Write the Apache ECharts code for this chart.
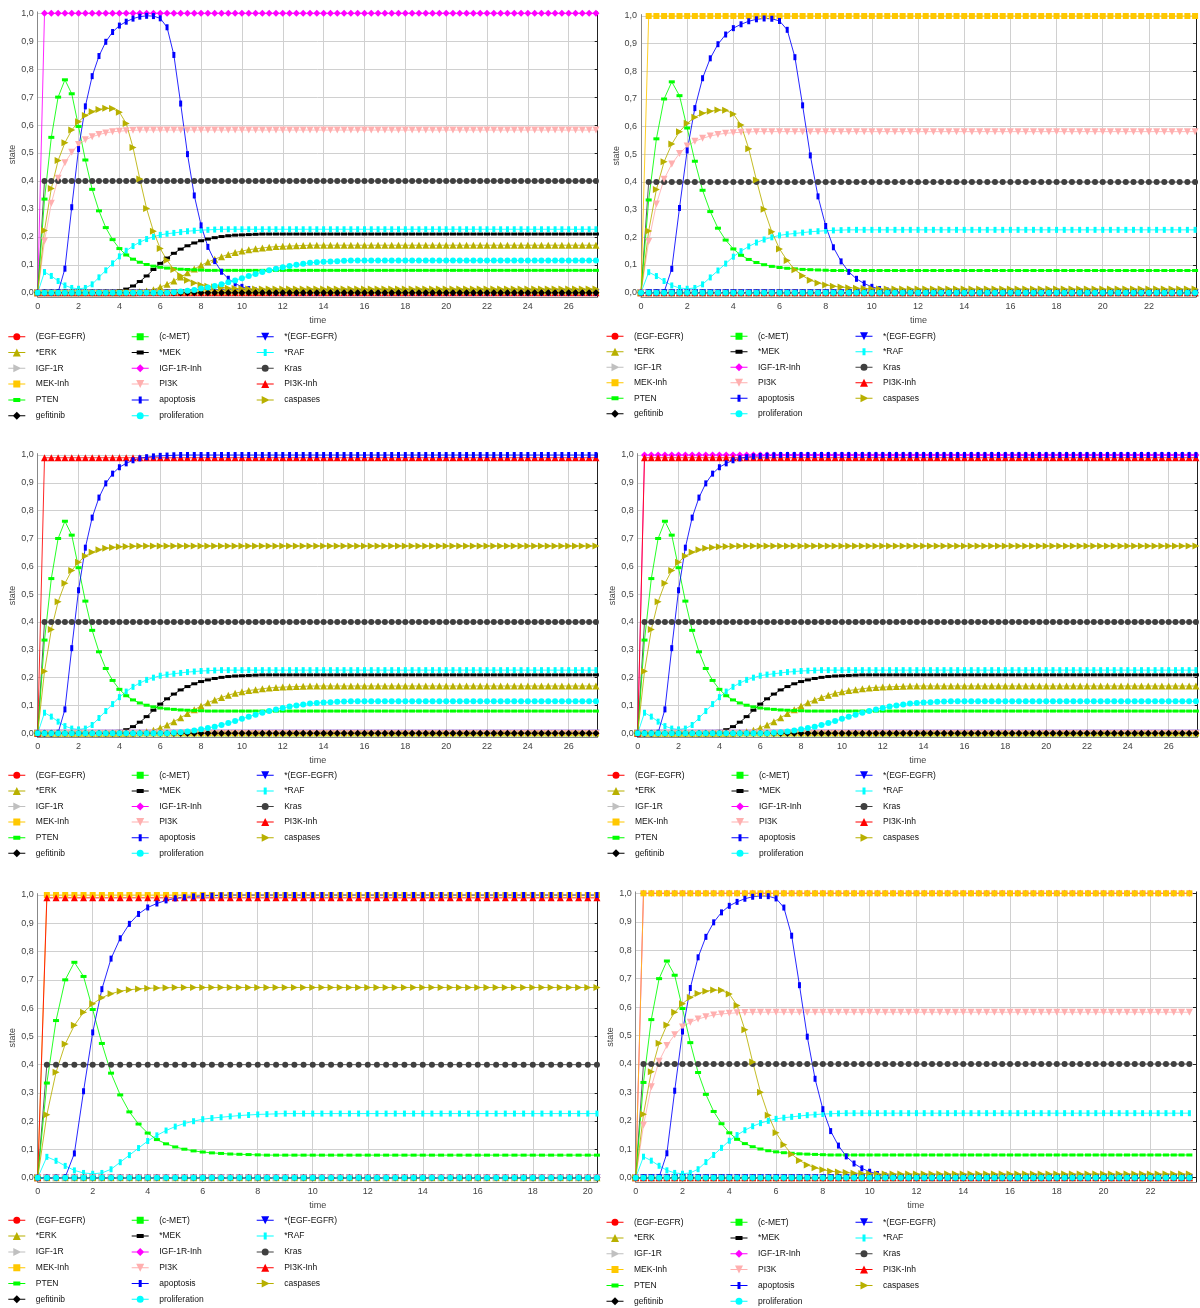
<!DOCTYPE html>
<html><head><meta charset="utf-8">
<script src="https://cdn.jsdelivr.net/npm/echarts@6/dist/echarts.min.js"></script>
<style>html,body{margin:0;padding:0;background:#fff}#c{width:1200px;height:1308px}</style>
</head><body><div id="c"></div>
<script>
const TIME_STEP = 1 / 3;
const ZERO = [0];
const STEP_ONE = [0, 1];
const STEP_PI3K_INH = [0, 0.99];
const KRAS = [0, 0.4];
const PI3K = [0, 0.185, 0.32, 0.41, 0.465, 0.503, 0.53, 0.547, 0.558, 0.566, 0.572, 0.576, 0.578, 0.58, 0.581, 0.582];
const PTEN = [0, 0.335, 0.556, 0.70, 0.762, 0.712, 0.595, 0.475, 0.37, 0.293, 0.233, 0.19, 0.158, 0.135, 0.12, 0.109, 0.101, 0.095, 0.091, 0.088, 0.086, 0.084, 0.083, 0.082, 0.081, 0.08];
const RAF = [0, 0.074, 0.06, 0.042, 0.026, 0.017, 0.014, 0.017, 0.03, 0.055, 0.08, 0.105, 0.13, 0.15, 0.167, 0.181, 0.192, 0.2, 0.207, 0.211, 0.214, 0.217, 0.22, 0.222, 0.224, 0.225, 0.226, 0.227];
const APOPTOSIS_BELL = [0, 0, 0, 0.002, 0.086, 0.306, 0.514, 0.667, 0.775, 0.847, 0.898, 0.933, 0.956, 0.97, 0.981, 0.988, 0.991, 0.99, 0.982, 0.95, 0.851, 0.677, 0.496, 0.348, 0.241, 0.164, 0.113, 0.075, 0.05, 0.033, 0.021, 0.013, 0.008, 0.004, 0.002, 0.001, 0];
const APOPTOSIS_RISE = [0, 0, 0, 0.002, 0.086, 0.306, 0.514, 0.667, 0.775, 0.847, 0.898, 0.933, 0.956, 0.97, 0.981, 0.988, 0.992, 0.995, 0.997, 0.998, 0.999, 1];
const CASPASES_BELL = [0, 0.223, 0.373, 0.473, 0.537, 0.582, 0.612, 0.634, 0.648, 0.656, 0.66, 0.659, 0.646, 0.606, 0.52, 0.407, 0.301, 0.22, 0.158, 0.116, 0.083, 0.061, 0.045, 0.035, 0.028, 0.023, 0.02, 0.018, 0.016, 0.015, 0.014, 0.013];
const CASPASES_RISE = [0, 0.223, 0.373, 0.473, 0.539, 0.585, 0.615, 0.637, 0.651, 0.66, 0.665, 0.668, 0.67, 0.671, 0.672, 0.673];
const MEK_RISE = [0, 0, 0, 0, 0, 0, 0, 0, 0, 0.001, 0.002, 0.004, 0.007, 0.013, 0.024, 0.04, 0.06, 0.083, 0.105, 0.124, 0.141, 0.156, 0.168, 0.178, 0.186, 0.192, 0.197, 0.201, 0.204, 0.206, 0.207, 0.208, 0.209, 0.21];
const ERK_RISE = [0, 0, 0, 0, 0, 0, 0, 0, 0, 0, 0, 0, 0, 0, 0, 0.003, 0.006, 0.011, 0.02, 0.03, 0.042, 0.056, 0.071, 0.085, 0.098, 0.11, 0.12, 0.129, 0.137, 0.144, 0.149, 0.154, 0.157, 0.16, 0.163, 0.165, 0.166, 0.167, 0.168, 0.169, 0.17];
const PROLIFERATION_RISE = [0, 0, 0, 0, 0, 0, 0, 0, 0, 0, 0, 0, 0, 0, 0, 0, 0, 0, 0, 0, 0.002, 0.004, 0.007, 0.01, 0.015, 0.019, 0.024, 0.03, 0.037, 0.044, 0.052, 0.06, 0.067, 0.074, 0.08, 0.086, 0.091, 0.096, 0.1, 0.104, 0.107, 0.109, 0.111, 0.112, 0.113, 0.114, 0.115];

const SERIES_NAMES = ['(EGF-EGFR)', '(c-MET)', '*(EGF-EGFR)', '*ERK', '*MEK', '*RAF', 'IGF-1R', 'IGF-1R-Inh', 'Kras', 'MEK-Inh', 'PI3K', 'PI3K-Inh', 'PTEN', 'apoptosis', 'caspases', 'gefitinib', 'proliferation'];
const Y_TICKS = [0, 0.1, 0.2, 0.3, 0.4, 0.5, 0.6, 0.7, 0.8, 0.9, 1.0];
const Y_TICK_LABELS = ['0,0', '0,1', '0,2', '0,3', '0,4', '0,5', '0,6', '0,7', '0,8', '0,9', '1,0'];
const X_TICKS_26 = [0, 2, 4, 6, 8, 10, 12, 14, 16, 18, 20, 22, 24, 26];
const X_TICKS_22 = [0, 2, 4, 6, 8, 10, 12, 14, 16, 18, 20, 22];
const X_TICKS_20 = [0, 2, 4, 6, 8, 10, 12, 14, 16, 18, 20];

// per-panel value assignment (series not listed stay at 0)
const PANEL_VALUES = [
  {'IGF-1R-Inh': STEP_ONE, 'Kras': KRAS, 'PI3K': PI3K, 'PTEN': PTEN, 'apoptosis': APOPTOSIS_BELL, 'caspases': CASPASES_BELL, '*RAF': RAF, '*MEK': MEK_RISE, '*ERK': ERK_RISE, 'proliferation': PROLIFERATION_RISE},
  {'MEK-Inh': STEP_ONE, 'Kras': KRAS, 'PI3K': PI3K, 'PTEN': PTEN, 'apoptosis': APOPTOSIS_BELL, 'caspases': CASPASES_BELL, '*RAF': RAF},
  {'PI3K-Inh': STEP_PI3K_INH, 'Kras': KRAS, 'PTEN': PTEN, 'apoptosis': APOPTOSIS_RISE, 'caspases': CASPASES_RISE, '*RAF': RAF, '*MEK': MEK_RISE, '*ERK': ERK_RISE, 'proliferation': PROLIFERATION_RISE},
  {'IGF-1R-Inh': STEP_ONE, 'PI3K-Inh': STEP_PI3K_INH, 'Kras': KRAS, 'PTEN': PTEN, 'apoptosis': APOPTOSIS_RISE, 'caspases': CASPASES_RISE, '*RAF': RAF, '*MEK': MEK_RISE, '*ERK': ERK_RISE, 'proliferation': PROLIFERATION_RISE},
  {'MEK-Inh': STEP_ONE, 'PI3K-Inh': STEP_PI3K_INH, 'Kras': KRAS, 'PTEN': PTEN, 'apoptosis': APOPTOSIS_RISE, 'caspases': CASPASES_RISE, '*RAF': RAF},
  {'IGF-1R-Inh': STEP_ONE, 'MEK-Inh': STEP_ONE, 'Kras': KRAS, 'PI3K': PI3K, 'PTEN': PTEN, 'apoptosis': APOPTOSIS_BELL, 'caspases': CASPASES_BELL, '*RAF': RAF}
];
const PANEL_POINTS = [83, 73, 83, 83, 62, 72];
const PANEL_XMAX = [27.42, 24.04, 27.42, 27.42, 20.36, 23.95];
const PANEL_XTICKS = [X_TICKS_26, X_TICKS_22, X_TICKS_26, X_TICKS_26, X_TICKS_20, X_TICKS_22];

// ---------- styling / layout ----------
const OLIVE = '#b8b000';
const DOWN = 'path://M0,0L10,0L5,10Z';
const RIGHT = 'path://M0,0L10,5L0,10Z';
const STYLE = {
  '(EGF-EGFR)': ['#ff0000', 'circle', 6, 'circle'],
  '(c-MET)': ['#00ff00', 'rect', 6, 'square'],
  '*(EGF-EGFR)': ['#0000ff', DOWN, 7, 'down'],
  '*ERK': [OLIVE, 'triangle', 7, 'up'],
  '*MEK': ['#000000', 'rect', [6, 3], 'hrect'],
  '*RAF': ['#00ffff', 'rect', [3, 6], 'vrect'],
  'IGF-1R': ['#c0c0c0', RIGHT, 7, 'right'],
  'IGF-1R-Inh': ['#ff00ff', 'diamond', 7, 'diamond'],
  'Kras': ['#404040', 'circle', 6, 'circle'],
  'MEK-Inh': ['#ffc800', 'rect', 6, 'square'],
  'PI3K': ['#ffafaf', DOWN, 7, 'down'],
  'PI3K-Inh': ['#ff0000', 'triangle', 7, 'up'],
  'PTEN': ['#00ff00', 'rect', [6, 3], 'hrect'],
  'apoptosis': ['#0000ff', 'rect', [3, 6], 'vrect'],
  'caspases': [OLIVE, RIGHT, 7, 'right'],
  'gefitinib': ['#000000', 'diamond', 7, 'diamond'],
  'proliferation': ['#00ffff', 'circle', 6, 'circle']
};
const ICON_BASE = 'M0,3.5H17V4.5H0Z M0,0L0.01,0L0,0.01Z M17,8L16.99,8L17,7.99Z ';
const ICON_SHAPES = {
  circle: 'M5,4A3.5,3.5,0,1,1,12,4A3.5,3.5,0,1,1,5,4Z',
  square: 'M5,0.5H12V7.5H5Z',
  up: 'M8.5,0L12.5,8H4.5Z',
  down: 'M4.5,0H12.5L8.5,8Z',
  right: 'M5,0L13,4L5,8Z',
  diamond: 'M8.5,0L12.5,4L8.5,8L4.5,4Z',
  hrect: 'M5,2H12V6H5Z',
  vrect: 'M7,0.5H10V7.5H7Z'
};
const LAYOUT = [
  {left: 37.7, top: 11.9, width: 560, height: 285, lgX: [8.3, 131.7, 256.7], lgY: 336.7, lgGap: 15.8},
  {left: 641, top: 14.6, width: 555, height: 282.2, lgX: [606.5, 730.5, 855.5], lgY: 336.2, lgGap: 15.5},
  {left: 37.7, top: 453.6, width: 560, height: 283.9, lgX: [8.3, 131.7, 256.7], lgY: 775.3, lgGap: 15.6},
  {left: 637.7, top: 453.6, width: 560, height: 283.9, lgX: [607.5, 731.5, 855.5], lgY: 775.3, lgGap: 15.6},
  {left: 37.7, top: 893.6, width: 560, height: 288.4, lgX: [8.3, 131.7, 256.7], lgY: 1220.3, lgGap: 15.8},
  {left: 635.7, top: 891.9, width: 560.3, height: 290.1, lgX: [606.5, 730.5, 855.5], lgY: 1222.2, lgGap: 15.8}
];
const FONT = 'Liberation Sans, Arial, sans-serif';

function hold(arr, n) {
  const out = arr.slice(0, n);
  while (out.length < n) out.push(arr[arr.length - 1]);
  return out;
}

const grid = [], xAxis = [], yAxis = [], series = [], legend = [];
LAYOUT.forEach((L, p) => {
  grid.push({left: L.left, top: L.top, width: L.width, height: L.height, containLabel: false});
  xAxis.push({
    type: 'value', gridIndex: p, min: 0, max: PANEL_XMAX[p],
    name: 'time', nameLocation: 'middle', nameGap: 19,
    nameTextStyle: {fontFamily: FONT, fontSize: 9, color: '#444'},
    axisLine: {show: true, onZero: false, lineStyle: {color: '#888', width: 1}},
    axisTick: {show: false, customValues: PANEL_XTICKS[p]},
    axisLabel: {customValues: PANEL_XTICKS[p], fontFamily: FONT, fontSize: 9, color: '#444', margin: 5},
    splitLine: {show: true, lineStyle: {color: '#d0d0d0', width: 1}}
  });
  yAxis.push({
    type: 'value', gridIndex: p, min: -0.015, max: 1.005,
    name: 'state', nameLocation: 'middle', nameGap: 19,
    nameTextStyle: {fontFamily: FONT, fontSize: 9, color: '#444'},
    axisLine: {show: true, onZero: false, lineStyle: {color: '#888', width: 1}},
    axisTick: {show: false, customValues: Y_TICKS},
    axisLabel: {customValues: Y_TICKS, fontFamily: FONT, fontSize: 9, color: '#444', margin: 4,
      formatter: v => Y_TICK_LABELS[Math.round(v * 10)]},
    splitLine: {show: true, lineStyle: {color: '#d0d0d0', width: 1}}
  });
  yAxis.push({
    type: 'value', gridIndex: p, min: -0.015, max: 1.005, position: 'right',
    axisLine: {show: true, onZero: false, lineStyle: {color: '#222', width: 1}},
    axisTick: {show: true, inside: true, length: 3, customValues: Y_TICKS, lineStyle: {color: '#222'}},
    axisLabel: {show: false, customValues: Y_TICKS},
    splitLine: {show: false}
  });
  const n = PANEL_POINTS[p];
  const times = Array.from({length: n}, (_, k) => k * TIME_STEP);
  SERIES_NAMES.forEach(name => {
    const vals = hold(PANEL_VALUES[p][name] || ZERO, n);
    const st = STYLE[name];
    series.push({
      type: 'line', name, xAxisIndex: p, yAxisIndex: 2 * p,
      data: times.map((t, k) => [t, vals[k]]),
      symbol: st[1], symbolSize: st[2], showSymbol: true, showAllSymbol: true,
      lineStyle: {width: 1, color: st[0], opacity: 0.85},
      itemStyle: {color: st[0], borderWidth: 0},
      emphasis: {disabled: true}, silent: true, animation: false
    });
  });
  for (let c = 0; c < 3; c++) {
    const names = SERIES_NAMES.filter((_, i) => i % 3 === c);
    legend.push({
      orient: 'vertical', left: L.lgX[c], top: L.lgY - 5, padding: 0,
      itemWidth: 17, itemHeight: 8, itemGap: L.lgGap - 10,
      selectedMode: false,
      itemStyle: {borderWidth: 0},
      textStyle: {fontFamily: FONT, fontSize: 8.5, color: '#111', lineHeight: 10, padding: [0, 0, 0, 5.5]},
      data: names.map(nm => ({name: nm, icon: 'path://' + ICON_BASE + ICON_SHAPES[STYLE[nm][3]]}))
    });
  }
});

const chart = echarts.init(document.getElementById('c'), null, {renderer: 'canvas'});
chart.setOption({backgroundColor: '#fff', animation: false, grid, xAxis, yAxis, series, legend});
</script></body></html>
